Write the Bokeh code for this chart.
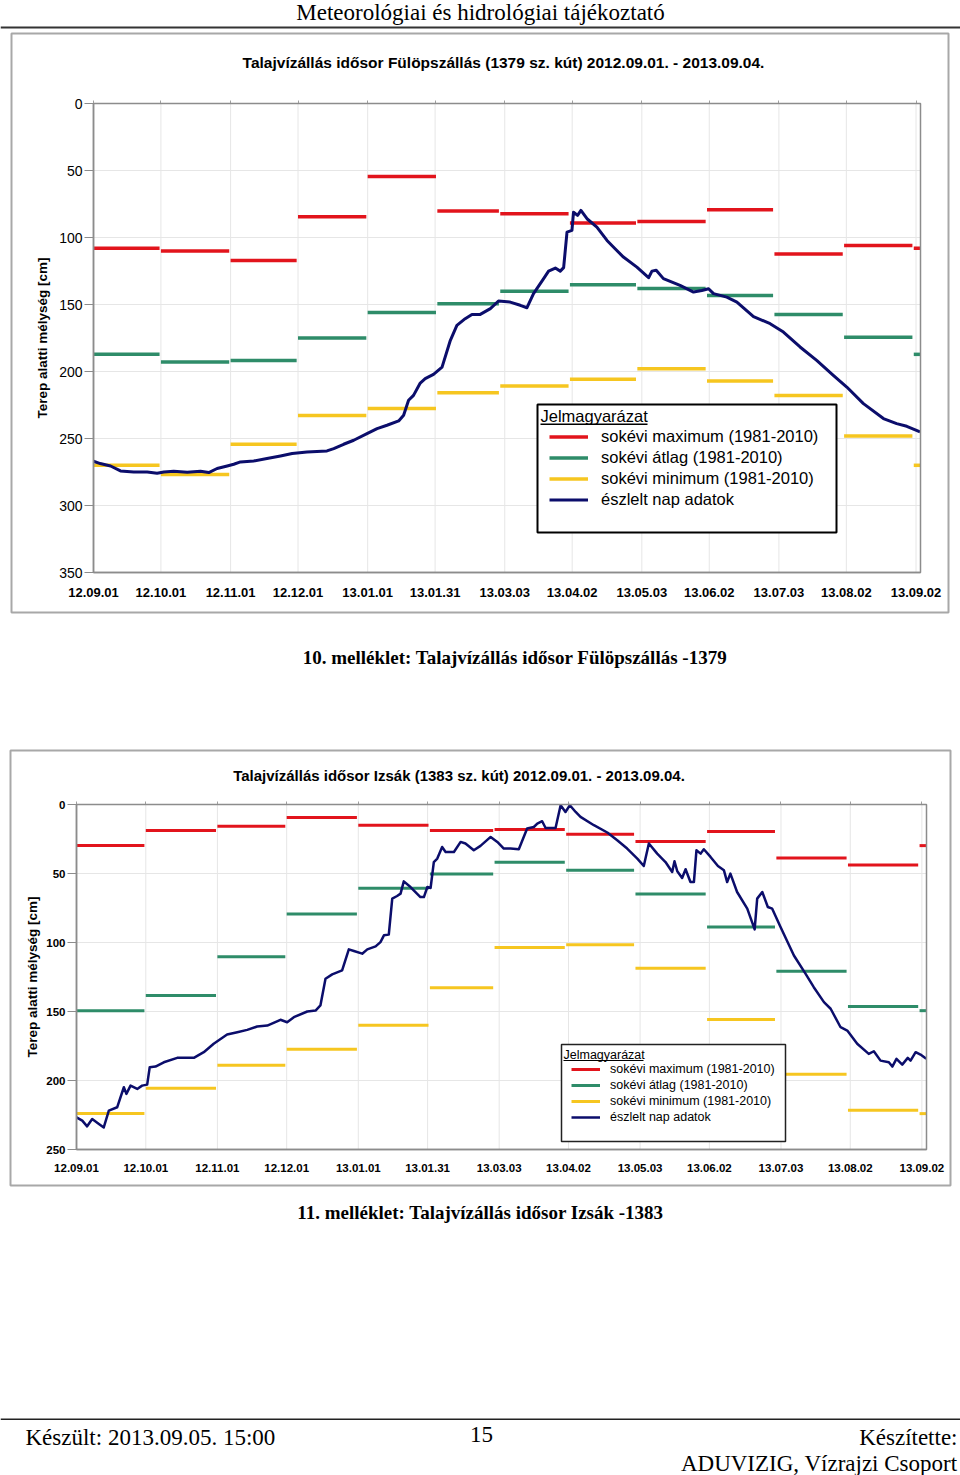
from bokeh.plotting import figure
from bokeh.models import (Range1d, FixedTicker, LinearAxis, Label, BoxAnnotation,
                          Legend, LegendItem)
from bokeh.layouts import column
from bokeh.embed import file_html
from bokeh.resources import INLINE

# ---------------- data (x = days since 2012-09-01) ----------------
tick_days = [0, 30, 61, 91, 122, 152, 183, 213, 244, 274, 305, 335, 366]
tick_labels = ["12.09.01", "12.10.01", "12.11.01", "12.12.01", "13.01.01", "13.01.31",
               "13.03.03", "13.04.02", "13.05.03", "13.06.02", "13.07.03", "13.08.02", "13.09.02"]
month_start = [0, 30, 61, 91, 122, 153, 181, 212, 242, 273, 303, 334, 365]
month_end = [30, 61, 91, 122, 153, 181, 212, 242, 273, 303, 334, 365, 368]
period_end = 368

series_names = ["sokévi maximum (1981-2010)", "sokévi átlag (1981-2010)",
                "sokévi minimum (1981-2010)", "észlelt nap adatok"]

# Fülöpszállás 1379
max1 = [108.1, 110.1, 117.1, 84.5, 54.4, 80.3, 82.3, 89.2, 88.0, 79.3, 112.4, 105.9, 108.1]
avg1 = [187.2, 192.9, 191.7, 175.0, 155.9, 149.4, 140.2, 135.2, 138.0, 143.2, 157.4, 174.5, 187.2]
min1 = [270.0, 276.9, 254.3, 232.9, 227.7, 215.8, 210.8, 205.8, 197.9, 207.1, 218.0, 248.1, 270.0]
obs1_day = [0, 3, 7.6, 12, 17.9, 23.9, 28.3, 31.3, 35.7, 41.7, 47.6, 51.3, 55, 59.5, 62.4, 65.4,
            71.3, 77.2, 83.2, 88.4, 95, 103.9, 106.9, 111.3, 115.8, 121.7, 126.2, 130.6, 135.8,
            138, 140.2, 142.4, 145.4, 147.6, 151.3, 155.1, 158.8, 161.7, 165.4, 168.4, 172.1,
            176.6, 180.2, 185.4, 189.9, 192.9, 195.8, 200.3, 202.5, 205.5, 207.7, 209.2, 210.7,
            212.9, 213.6, 215.4, 216.9, 219.6, 224, 228.5, 232.1, 235.8, 241.8, 247, 248.5,
            250.4, 253.6, 261, 267, 270.7, 273.7, 275.9, 281.8, 286.3, 293.7, 301.1, 307,
            314.4, 321.8, 329.2, 335.2, 342.6, 351.5, 357.4, 361.9, 367.8]
obs1_depth = [267, 268.7, 270.5, 274.2, 275, 275, 275.9, 275, 274.4, 275.2, 274.4, 275.4, 272.4,
              270.5, 269.2, 267.5, 266.8, 265, 263, 261.2, 260.1, 259.3, 257.5, 254.3, 251.3,
              246.3, 242.6, 240.1, 236.9, 232.7, 221.5, 217.8, 208.6, 205.3, 202.1, 196.7,
              176.7, 165.6, 160.6, 157.4, 157.4, 153.1, 147.4, 148.2, 150.6, 152.4, 141.9,
              130.7, 125.1, 122.8, 125.1, 122.5, 96, 94.7, 81.1, 83.5, 79.8, 86, 92.3, 102.2,
              108.4, 114.6, 122.1, 130, 125.1, 124.5, 130.7, 135.7, 140.7, 139.5, 138.2, 141.9,
              144.5, 148.2, 159.1, 164.3, 170.6, 181.7, 191.7, 202.9, 211.6, 224, 235.1, 238.9,
              240.9, 245.1]

# Izsák 1383
max2 = [29.8, 18.9, 15.7, 9.5, 15.0, 18.9, 18.2, 21.6, 26.9, 19.6, 38.7, 43.8, 29.8]
avg2 = [149.5, 138.4, 110.3, 79.4, 60.7, 50.4, 41.9, 47.7, 64.9, 88.8, 120.8, 146.4, 149.4]
min2 = [224.0, 205.6, 189.0, 177.3, 159.9, 132.8, 103.6, 101.6, 118.7, 155.8, 195.5, 221.6, 224.0]
obs2_day = [0, 2.5, 4.6, 6.8, 9.7, 11.8, 14.0, 17.6, 20.5, 21.6, 23.4, 26.3, 28.4, 30.6, 31.7,
            34.2, 37.8, 43.6, 50.8, 55.1, 59.4, 65.2, 69.6, 73.9, 78.2, 82.6, 88.3, 91.2, 94.1,
            99.9, 103.5, 105.6, 107.8, 110.7, 115.0, 117.9, 120.1, 123.7, 125.9, 129.5, 131.6,
            133.1, 135.2, 136.7, 138.8, 140.3, 141.7, 144.6, 148.9, 150.4, 151.9, 153.3, 154.7,
            156.2, 158.3, 159.8, 163.4, 166.3, 168.4, 172.0, 174.9, 179.3, 182.2, 185.0, 187.9,
            191.5, 195.1, 198.0, 199.5, 201.6, 203.1, 207.4, 209.6, 211.7, 213.6, 216.1, 218.2,
            224.0, 229.8, 234.1, 238.4, 242.8, 245.6, 247.8, 251.4, 255.0, 257.9, 258.9, 260.1,
            262.2, 263.7, 265.8, 267.3, 268.4, 270.2, 271.6, 274.5, 277.7, 280.3, 281.7, 283.1,
            286.0, 290.4, 293.6, 294.7, 296.9, 299.3, 301.2, 304.8, 310.6, 315.6, 319.2, 323.6,
            326.5, 330.8, 333.7, 338.0, 343.0, 345.2, 348.1, 351.7, 353.2, 355.0, 357.5, 359.9,
            361.1, 363.3, 365.4, 367.9]
obs2_depth = [226.7, 229.1, 233.2, 227.9, 231.5, 234.0, 221.8, 219.4, 204.9, 209.7, 203.7, 206.1,
              203.7, 203.0, 190.4, 189.9, 186.8, 183.6, 183.6, 179.5, 173.4, 166.7, 165.0, 163.3,
              160.9, 160.2, 156.0, 157.8, 154.1, 150.0, 149.3, 145.6, 126.3, 123.1, 120.2, 105.0,
              106.2, 108.1, 105.0, 102.8, 99.7, 94.8, 94.3, 68.2, 66.3, 64.6, 55.7, 59.8, 67.1,
              67.1, 59.8, 60.5, 41.7, 39.2, 30.8, 34.4, 34.4, 27.1, 28.3, 33.2, 30.0, 23.5, 27.1,
              31.9, 31.9, 32.4, 17.4, 16.3, 13.8, 12.1, 17.0, 17.0, 0.5, 5.4, 0.5, 5.4, 9.0, 15.0,
              20.3, 25.9, 31.9, 39.2, 44.6, 28.3, 35.6, 41.7, 48.9, 41.1, 48.4, 53.3, 46.9, 56.2,
              56.2, 33.2, 35.6, 32.4, 38.0, 44.6, 47.7, 56.2, 50.1, 63.4, 75.5, 90.5, 68.2, 63.4,
              74.3, 75.5, 88.8, 109.4, 122.6, 132.4, 143.2, 148.0, 161.4, 163.8, 173.4, 180.7,
              178.8, 185.6, 186.8, 189.9, 184.3, 188.5, 183.6, 185.6, 179.5, 181.2, 184.3]

# ---------------- styles ----------------
RED, GREEN, YELLOW, NAVY = "#e2141c", "#2e8c69", "#f6c620", "#0b0d6b"
FRAME, GRID, BOXC = "#8c8c8c", "#e6e6e6", "#a8a8a8"
SANS, SERIF = "Liberation Sans", "Liberation Serif"
W = 960


def clabel(p, x, y, text, size, font=SANS, style="normal", align="left"):
    p.add_layout(Label(x=x, y=y, x_units="canvas", y_units="canvas", text=text,
                       text_font=font, text_font_size=size, text_font_style=style,
                       text_align=align, text_baseline="middle", text_color="black"))


def cbox(p, l, r, t, b, fill=None, line=None, lw=1.0):
    p.add_layout(BoxAnnotation(left=l, right=r, top=t, bottom=b,
                               left_units="canvas", right_units="canvas",
                               top_units="canvas", bottom_units="canvas",
                               fill_color=fill, fill_alpha=1.0,
                               line_color=line, line_alpha=1.0, line_width=lw))


def chart(H, ymax, box, maxv, avgv, minv, od, ov, step_w, obs_w,
          ytick_size, ytick_style, xtick_size, xtick_standoff, ylab_size, ylab_standoff):
    L, R, T, B = box
    sx = (R - L) / period_end
    sy = (B - T) / ymax
    p = figure(width=W, height=H,
               x_range=Range1d(-L / sx, period_end + (W - R) / sx),
               y_range=Range1d(ymax + (H - B) / sy, -T / sy),
               output_backend="svg", toolbar_location=None, title=None, min_border=0)
    p.outline_line_color = None
    p.xgrid.visible = False
    p.ygrid.visible = False
    yticks = list(range(0, ymax + 1, 50))
    nx, ny = len(tick_days), len(yticks)
    # grid lines limited to the chart area
    p.segment(x0=tick_days, x1=tick_days, y0=[0] * nx, y1=[ymax] * nx,
              line_color=GRID, line_width=1)
    p.segment(x0=[0] * ny, x1=[period_end] * ny, y0=yticks, y1=yticks,
              line_color=GRID, line_width=1)

    xt = FixedTicker(ticks=tick_days)
    yt = FixedTicker(ticks=yticks)
    xa, ya = p.xaxis[0], p.yaxis[0]
    xa.ticker = xt
    ya.ticker = yt
    xa.fixed_location = ymax
    xa.bounds = (0, period_end)
    ya.fixed_location = 0
    ya.bounds = (0, ymax)
    xa.major_label_overrides = {d: l for d, l in zip(tick_days, tick_labels)}
    for ax in (xa, ya):
        ax.axis_line_color = FRAME
        ax.axis_line_width = 1.5
        ax.major_tick_line_color = FRAME
        ax.minor_tick_line_color = None
        ax.major_label_text_font = SANS
        ax.major_label_text_color = "black"
    xa.major_tick_out = 0
    xa.major_tick_in = 0
    xa.major_label_standoff = xtick_standoff
    xa.major_label_text_font_style = "bold"
    xa.major_label_text_font_size = xtick_size
    ya.major_tick_out = 9
    ya.major_tick_in = 0
    ya.major_label_standoff = 2
    ya.major_label_text_font_size = ytick_size
    ya.major_label_text_font_style = ytick_style
    ya.axis_label = "Terep alatti mélység [cm]"
    ya.axis_label_text_font = SANS
    ya.axis_label_text_font_style = "bold"
    ya.axis_label_text_font_size = ylab_size
    ya.axis_label_text_color = "black"
    ya.axis_label_standoff = ylab_standoff
    top_ax = LinearAxis(ticker=xt, fixed_location=0, bounds=(0, period_end),
                        major_tick_out=3, major_tick_in=0,
                        major_tick_line_color="#a0a0a0", axis_line_color=None,
                        minor_tick_line_color=None, major_label_text_color=None)
    p.add_layout(top_ax, "above")

    x1 = [e - 0.6 if e < period_end else e for e in month_end]
    rs = []
    for vals, col in ((maxv, RED), (avgv, GREEN), (minv, YELLOW)):
        rs.append(p.segment(x0=month_start, x1=x1, y0=vals, y1=vals,
                            line_color=col, line_width=step_w))
    rs.append(p.line(od, ov, line_color=NAVY, line_width=obs_w, line_join="round"))
    # chart frame
    p.add_layout(BoxAnnotation(left=0, right=period_end, top=0, bottom=ymax,
                               fill_color=None, line_color=FRAME, line_alpha=1.0,
                               line_width=1.5))
    return p, rs


def add_legend(p, rs, loc, gw, gh, standoff, size):
    leg = Legend(items=[LegendItem(label=n, renderers=[r]) for n, r in zip(series_names, rs)],
                 location=loc, orientation="vertical", padding=0, margin=0, spacing=0,
                 glyph_width=gw, glyph_height=gh, label_height=gh, label_standoff=standoff,
                 label_text_font=SANS, label_text_font_size=size, label_text_color="black",
                 border_line_color=None, background_fill_alpha=0)
    p.add_layout(leg, "center")


# ---------------- figure A: header + chart 1 + caption (page y 0..700) ----------------
HA = 700
pA, rA = chart(HA, 350, (93, 920, 103, 572), max1, avg1, min1, obs1_day, obs1_depth,
               3.5, 3.0, "14px", "normal", "13px", 15, "13.5px", 6)
clabel(pA, 480, 12, "Meteorológiai és hidrológiai tájékoztató", "23px", font=SERIF,
       align="center")
cbox(pA, 0, W, 26, 28, fill="#333333")
cbox(pA, 11, 948, 33, 612, line=BOXC, lw=2)
clabel(pA, 503, 62, "Talajvízállás idősor Fülöpszállás (1379 sz. kút) 2012.09.01. - 2013.09.04.",
       "15.5px", style="bold", align="center")
cbox(pA, 537, 836, 404, 532, fill="white", line="black", lw=2)
clabel(pA, 540, 415.5, "Jelmagyarázat", "16.5px")
cbox(pA, 540, 647, 423, 424.5, fill="black")
add_legend(pA, rA, (549, HA - 510), 39, 21, 13, "16.5px")
clabel(pA, 514.5, 657, "10. melléklet: Talajvízállás idősor Fülöpszállás -1379", "19px",
       font=SERIF, style="bold", align="center")

# ---------------- figure B: chart 2 + caption + footer (page y 700..1475) ----------------
HB = 775
pB, rB = chart(HB, 250, (76, 926, 104, 449), max2, avg2, min2, obs2_day, obs2_depth,
               3.0, 2.5, "11.5px", "bold", "11.5px", 14, "13.5px", 3)
cbox(pB, 10, 950, 50, 485, line=BOXC, lw=2)
clabel(pB, 458.5, 75, "Talajvízállás idősor Izsák (1383 sz. kút) 2012.09.01. - 2013.09.04.",
       "15px", style="bold", align="center")
cbox(pB, 561, 785, 344, 441, fill="white", line="#222222", lw=1.5)
clabel(pB, 563, 354, "Jelmagyarázat", "12.5px")
cbox(pB, 563, 643, 359.5, 360.5, fill="black")
add_legend(pB, rB, (571, HB - 425), 29, 16, 10, "12.5px")
clabel(pB, 480, 512, "11. melléklet: Talajvízállás idősor Izsák -1383", "19px",
       font=SERIF, style="bold", align="center")
cbox(pB, 0, W, 718, 719.5, fill="#222222")
clabel(pB, 25, 737, "Készült: 2013.09.05. 15:00", "23px", font=SERIF)
clabel(pB, 481, 734, "15", "23px", font=SERIF, align="center")
clabel(pB, 957, 737, "Készítette:", "23px", font=SERIF, align="right")
clabel(pB, 957, 763, "ADUVIZIG, Vízrajzi Csoport", "23px", font=SERIF, align="right")

layout = column(pA, pB, spacing=0)
open("out.html", "w").write(file_html(layout, INLINE, title="Talajvízállás"))
